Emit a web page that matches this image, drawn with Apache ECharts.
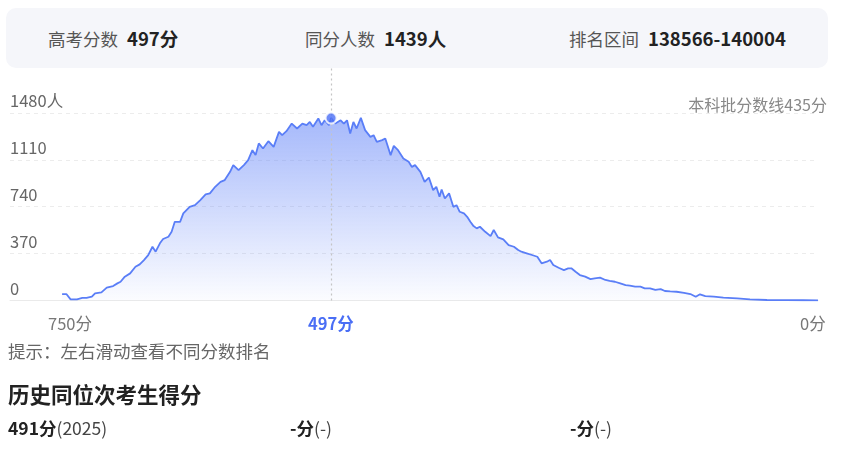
<!DOCTYPE html>
<html><head><meta charset="utf-8">
<script src="https://cdn.jsdelivr.net/npm/echarts@6/dist/echarts.min.js"></script>
<style>
body{margin:0;width:842px;height:450px;position:relative;font-family:"Noto Sans CJK SC","Noto Sans",sans-serif;background:#fff;overflow:hidden}
#chart{position:absolute;left:0;top:0;width:842px;height:450px}
.abs{position:absolute;white-space:nowrap}
.card{position:absolute;left:6px;top:8px;width:822px;height:60px;border-radius:10px;background:#f5f6fa}
.k{color:#555;font-size:17.5px}
.v{color:#222;font-size:18.5px;font-weight:bold;margin-left:9px}
</style></head>
<body>
<div class="card"></div>
<div class="abs" style="left:48px;top:26px;line-height:24px"><span class="k">高考分数</span><span class="v">497分</span></div>
<div class="abs" style="left:305px;top:26px;line-height:24px"><span class="k">同分人数</span><span class="v">1439人</span></div>
<div class="abs" style="left:569px;top:26px;line-height:24px"><span class="k">排名区间</span><span class="v">138566-140004</span></div>
<div id="chart"></div>
<div class="abs" style="right:15px;top:93px;font-size:16px;color:#888;line-height:22px">本科批分数线435分</div>
<div class="abs" style="left:48px;top:312px;font-size:16.5px;color:#777;line-height:22px">750分</div>
<div class="abs" style="left:308px;top:312px;font-size:16.5px;color:#4a6ef5;font-weight:bold;line-height:22px">497分</div>
<div class="abs" style="left:800px;top:312px;font-size:16.5px;color:#777;line-height:22px">0分</div>
<div class="abs" style="left:8px;top:339px;font-size:17.5px;color:#666;line-height:24px">提示：左右滑动查看不同分数排名</div>
<div class="abs" style="left:8px;top:380px;font-size:21.5px;color:#222;font-weight:bold;line-height:28px">历史同位次考生得分</div>
<div class="abs" style="left:8px;top:416px;font-size:17.5px;color:#222;line-height:24px"><b>491分</b><span style="color:#444">(2025)</span></div>
<div class="abs" style="left:290px;top:416px;font-size:17.5px;color:#222;line-height:24px"><b>-分</b><span style="color:#444">(-)</span></div>
<div class="abs" style="left:570px;top:416px;font-size:17.5px;color:#222;line-height:24px"><b>-分</b><span style="color:#444">(-)</span></div>
<script>
const scores = [750,746,742,736,731,727,722,719,713,708,
702,698,695,691,686,681,677,673,669,665,
662,658,655,650,647,644,639,636,630,625,
620,615,611,606,601,597,592,589,584,579,
575,571,568,565,561,556,551,546,543,539,
534,529,524,520,517,514,509,506,503,499,
497,493,488,485,482,479,476,473,469,465,
460,457,454,449,446,441,438,434,429,424,
421,418,413,409,405,401,398,395,393,390,
386,382,379,376,372,369,366,363,360,357,
352,347,344,340,335,330,325,321,318,313,
308,303,299,294,291,288,283,278,274,271,
267,263,258,253,249,244,239,235,230,225,
220,216,211,206,202,197,192,187,183,178,
172,165,159,154,150,145,137,128,115,103,
87,68,53,39];
const counts = [51,51,9,9,20,20,30,57,64,101,
114,135,148,188,214,266,285,319,358,424,
385,451,485,503,542,621,620,687,739,752,
792,837,845,897,936,950,1015,1068,1028,1068,
1107,1186,1147,1239,1199,1257,1212,1330,1304,1336,
1396,1357,1396,1383,1409,1370,1436,1383,1422,1383,
1439,1396,1422,1396,1422,1318,1409,1357,1441,1344,
1291,1304,1252,1265,1278,1147,1220,1186,1120,1094,
1054,1068,1015,936,970,871,897,818,876,805,
845,739,752,700,687,660,621,587,569,582,
542,508,556,498,482,437,424,398,385,372,
359,345,293,306,319,280,258,240,254,254,
227,201,188,169,175,180,162,154,148,135,
122,117,109,109,96,96,83,90,75,72,
69,61,51,30,49,35,30,22,17,9,
4,3,2,1];
const myScore = 497;
const myCount = 1439;
const yTickStep = 370;
const yTopLabel = 1480;
const yMax = 1850;
const xMin = 39, xMax = 799;

const chart = echarts.init(document.getElementById('chart'));
const lineData = scores.map((s, i) => [s, counts[i]]);
const split = '#ececec';
chart.setOption({
  animation: false,
  grid: {left: 10, right: 24, top: 66, bottom: 149.5},
  xAxis: {
    type: 'value', min: xMin, max: xMax, inverse: true,
    axisLine: {show: true, lineStyle: {color: '#eaeaea', width: 1}},
    axisTick: {show: false}, axisLabel: {show: false}, splitLine: {show: false}
  },
  yAxis: {
    type: 'value', min: 0, max: yMax, interval: yTickStep,
    axisLine: {show: false}, axisTick: {show: false},
    axisLabel: {
      inside: true, margin: 0, color: '#666', fontSize: 16.5,
      verticalAlign: 'bottom', padding: [0, 0, 4, 0],
      fontFamily: '"Noto Sans CJK SC","Noto Sans",sans-serif',
      formatter: v => v === yTopLabel ? v + '人' : (v > yTopLabel ? '' : String(v))
    },
    splitLine: {lineStyle: {type: [4, 4], color: [split, split, split, split, split, 'rgba(0,0,0,0)']}}
  },
  series: [
    {
      type: 'line', data: lineData, showSymbol: false, smooth: false,
      lineStyle: {color: '#5a7ef7', width: 1.8},
      areaStyle: {
        color: new echarts.graphic.LinearGradient(0, 0, 0, 1, [
          {offset: 0, color: 'rgba(96,130,248,0.8)'},
          {offset: 1, color: 'rgba(96,130,248,0.03)'}
        ])
      },
      z: 2
    },
    {
      type: 'scatter', data: [[myScore, myCount]], symbolSize: 11,
      itemStyle: {color: '#4a6ef5', borderColor: '#fff', borderWidth: 2},
      z: 5,
      markLine: {
        silent: true, symbol: ['none', 'none'], label: {show: false},
        lineStyle: {type: [2, 3], color: '#c4c4c4', width: 1.2},
        data: [{xAxis: myScore}]
      }
    }
  ]
});
</script>
</body></html>
